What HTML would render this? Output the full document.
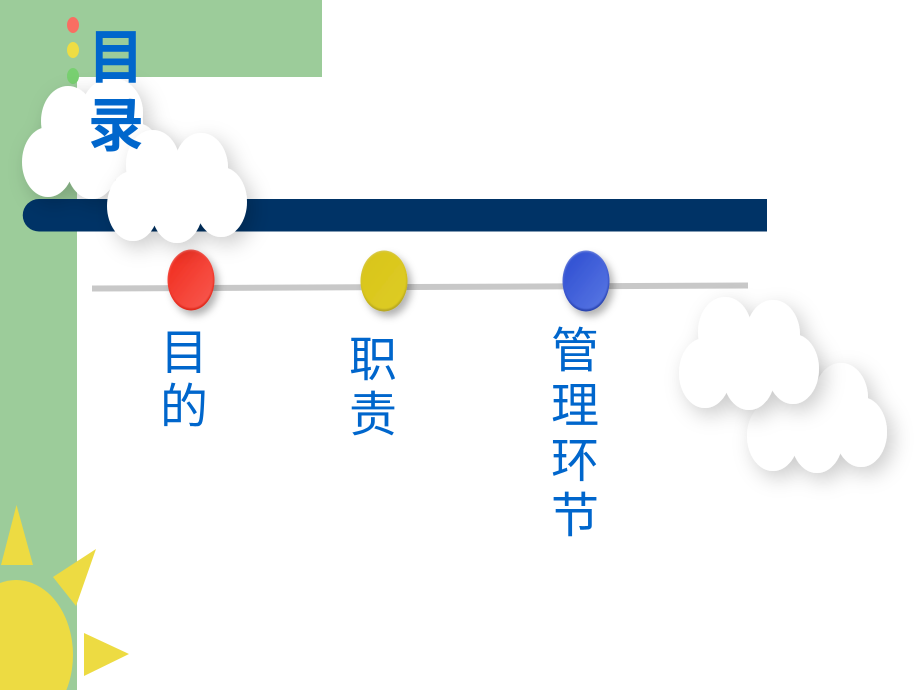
<!DOCTYPE html>
<html>
<head>
<meta charset="utf-8">
<style>
html,body{margin:0;padding:0;background:#fff;width:920px;height:690px;overflow:hidden}
svg{display:block}
text{font-family:"Liberation Sans","Noto Sans CJK SC",sans-serif;fill:#0066cc;text-anchor:middle}
</style>
</head>
<body>
<svg width="920" height="690" viewBox="0 0 920 690" xmlns="http://www.w3.org/2000/svg">
<defs>
<filter id="cs" x="-30%" y="-30%" width="170%" height="170%">
<feDropShadow dx="6" dy="7" stdDeviation="10" flood-color="#000" flood-opacity="0.2"/>
</filter>
<filter id="bs" x="-40%" y="-40%" width="190%" height="190%">
<feDropShadow dx="4" dy="5" stdDeviation="4" flood-color="#000" flood-opacity="0.3"/>
</filter>
<filter id="soft" x="-10%" y="-10%" width="120%" height="120%">
<feGaussianBlur stdDeviation="0.7"/>
</filter>
<linearGradient id="r" x1="0" y1="0" x2="1" y2="1"><stop offset="0" stop-color="#f02a1c"/><stop offset="1" stop-color="#f85a50"/></linearGradient>
<linearGradient id="y" x1="0" y1="0" x2="1" y2="1"><stop offset="0" stop-color="#d8c41a"/><stop offset="1" stop-color="#decc24"/></linearGradient>
<linearGradient id="b" x1="0" y1="0" x2="1" y2="1"><stop offset="0" stop-color="#2c4cd0"/><stop offset="1" stop-color="#5a78e4"/></linearGradient>
<linearGradient id="rr" x1="0" y1="0" x2="0.3" y2="1"><stop offset="0" stop-color="#f87068"/><stop offset="0.6" stop-color="#f0382c"/><stop offset="1" stop-color="#e02a1e"/></linearGradient>
<linearGradient id="yr" x1="0" y1="0" x2="0.3" y2="1"><stop offset="0" stop-color="#d8cc60"/><stop offset="0.6" stop-color="#d4c01c"/><stop offset="1" stop-color="#b8a820"/></linearGradient>
<linearGradient id="br" x1="0" y1="0" x2="0.3" y2="1"><stop offset="0" stop-color="#8094e0"/><stop offset="0.6" stop-color="#3c58d0"/><stop offset="1" stop-color="#2a44b0"/></linearGradient>
<g id="cloud">
<ellipse cx="725" cy="332" rx="27" ry="35"/>
<ellipse cx="773" cy="335" rx="27" ry="35"/>
<ellipse cx="705" cy="373" rx="26" ry="35"/>
<ellipse cx="749" cy="375" rx="26" ry="35"/>
<ellipse cx="793" cy="369" rx="26" ry="35"/>
<rect x="715" y="340" width="70" height="40"/>
</g>
</defs>

<rect x="0" y="0" width="77" height="690" fill="#9ccc9a"/>
<rect x="0" y="0" width="322" height="77" fill="#9ccc9a"/>

<ellipse cx="73" cy="25" rx="6" ry="8" fill="#f96e62"/>
<ellipse cx="73" cy="50" rx="6" ry="8" fill="#eedd44"/>
<ellipse cx="73" cy="76" rx="6" ry="8" fill="#78d070"/>

<path d="M39 199H767V231.500H39A16 16 0 0 1 39 199Z" fill="#003366"/>

<polygon points="92,285.500 748,282.500 748,288.500 92,291.500" fill="#c8c8c8"/>

<g filter="url(#bs)">
<ellipse cx="191" cy="280" rx="23.500" ry="30.500" fill="url(#rr)"/>
</g>
<ellipse cx="191" cy="279.500" rx="22.300" ry="28.800" fill="url(#r)" filter="url(#soft)"/>
<g filter="url(#bs)">
<ellipse cx="384" cy="281" rx="23.500" ry="30.500" fill="url(#yr)"/>
</g>
<ellipse cx="384" cy="280.500" rx="22.300" ry="28.800" fill="url(#y)" filter="url(#soft)"/>
<g filter="url(#bs)">
<ellipse cx="586" cy="281" rx="23.500" ry="30.500" fill="url(#br)"/>
</g>
<ellipse cx="586" cy="280.500" rx="22.300" ry="28.800" fill="url(#b)" filter="url(#soft)"/>

<g fill="#fff" filter="url(#cs)"><use href="#cloud" transform="translate(68,63)"/></g>
<g fill="#fff" filter="url(#cs)"><use href="#cloud"/></g>
<g fill="#fff" filter="url(#cs)"><use href="#cloud" transform="translate(-657,-211)"/><ellipse cx="112" cy="113" rx="31" ry="35"/></g>
<g fill="#fff" filter="url(#cs)"><use href="#cloud" transform="translate(-572,-167)"/></g>

<path d="M0 583A57 75 0 0 1 66.400 690L0 690Z" fill="#eddb42"/>
<polygon points="16.500,505 33,565 1,565" fill="#eddb42"/>
<polygon points="96,549 76,606 53,577" fill="#eddb42"/>
<polygon points="84,633 129,654 84,676" fill="#eddb42"/>

<text transform="translate(116,78) scale(1,1.05)" font-size="56" font-weight="700">目</text>
<text transform="translate(116,146) scale(1,1.05)" font-size="56" font-weight="700">录</text>

<text x="184" y="369" font-size="48">目</text>
<text x="184" y="423" font-size="48">的</text>
<text x="373" y="376" font-size="48">职</text>
<text x="373" y="431" font-size="48">责</text>
<text x="575" y="367" font-size="48">管</text>
<text x="575" y="422" font-size="48">理</text>
<text x="575" y="477" font-size="48">环</text>
<text x="575" y="532" font-size="48">节</text>
</svg>
</body>
</html>
